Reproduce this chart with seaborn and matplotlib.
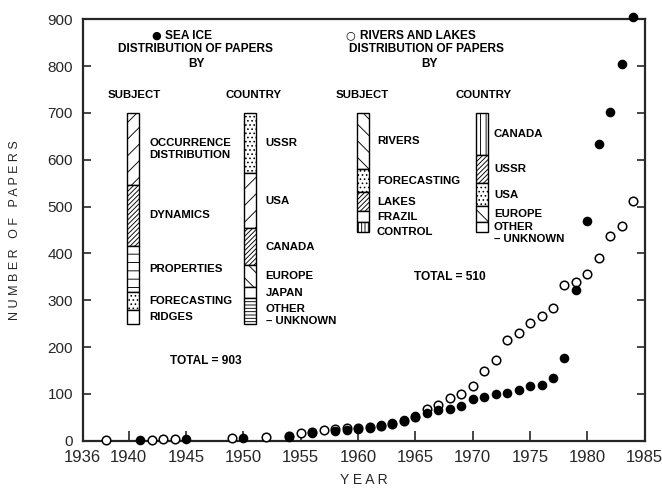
import numpy as np
import pandas as pd
import matplotlib
matplotlib.use("Agg")
import matplotlib.pyplot as plt
import seaborn as sns

# cumulative number of papers
ice_years = [1941, 1945, 1950, 1954, 1956, 1958, 1959, 1960, 1961, 1962, 1963,
             1964, 1965, 1966, 1967, 1968, 1969, 1970, 1971, 1972, 1973, 1974,
             1975, 1976, 1977, 1978, 1979, 1980, 1981, 1982, 1983, 1984]
ice_papers = [2, 3, 5, 9, 16, 20, 22, 25, 28, 33, 38,
              45, 53, 60, 65, 68, 75, 90, 93, 99, 103, 108,
              117, 119, 133, 176, 322, 469, 634, 701, 804, 904]

river_years = [1938, 1942, 1943, 1944, 1949, 1952, 1954, 1955, 1956, 1957, 1958,
               1959, 1960, 1961, 1962, 1963, 1964, 1965, 1966, 1967, 1968, 1969,
               1970, 1971, 1972, 1973, 1974, 1975, 1976, 1977, 1978, 1979, 1980,
               1981, 1982, 1983, 1984]
river_papers = [1, 2, 3, 4, 5, 7, 10, 16, 19, 22, 26,
                28, 28, 29, 32, 36, 43, 51, 67, 76, 92, 100,
                117, 148, 172, 216, 231, 252, 266, 283, 332, 340, 357,
                391, 437, 459, 511]

# distribution of papers (totals 903 and 510)
ice_subject_names = ["OCCURRENCE\nDISTRIBUTION", "DYNAMICS", "PROPERTIES", "FORECASTING", "RIDGES"]
ice_subject_counts = [308, 260, 197, 77, 61]
ice_country_names = ["USSR", "USA", "CANADA", "EUROPE", "JAPAN", "OTHER\n\u2013 UNKNOWN"]
ice_country_counts = [258, 235, 157, 95, 47, 111]
river_subject_names = ["RIVERS", "FORECASTING", "LAKES", "FRAZIL", "CONTROL"]
river_subject_counts = [241, 96, 84, 44, 45]
river_country_names = ["CANADA", "USSR", "USA", "EUROPE", "OTHER\n\u2013 UNKNOWN"]
river_country_counts = [178, 121, 99, 67, 45]

x_ticks = [1936, 1940, 1945, 1950, 1955, 1960, 1965, 1970, 1975, 1980, 1985]
y_ticks = [0, 100, 200, 300, 400, 500, 600, 700, 800, 900]

BAR_TOP = 700      # inset bars hang from this level
BAR_SCALE = 0.5    # axis units per paper in the inset bars
LABEL_GAP = 32     # min vertical gap between inset labels

sns.set_style("ticks")
plt.rcParams["font.family"] = ["Liberation Sans", "DejaVu Sans"]
plt.rcParams["hatch.linewidth"] = 0.65

fig = plt.figure(figsize=(6.62, 4.93), dpi=100)
ax = fig.add_axes([0.125, 0.106, 0.849, 0.855])

rivers = pd.DataFrame({"year": river_years, "papers": river_papers})
ice = pd.DataFrame({"year": ice_years, "papers": ice_papers})

sns.scatterplot(data=rivers, x="year", y="papers", ax=ax, s=38, marker="o",
                facecolor="white", edgecolor="black", linewidth=1.1,
                clip_on=False, zorder=3)
sns.scatterplot(data=ice, x="year", y="papers", ax=ax, s=48, marker="o",
                color="black", edgecolor="black", linewidth=0,
                clip_on=False, zorder=4)

# stacked inset bars: (bar centre, label x, names, counts, hatches)
panels = [
    (1940.4, 1941.8, ice_subject_names, ice_subject_counts,
     ["//", "///////", "--", "....", ""]),
    (1950.6, 1951.95, ice_country_names, ice_country_counts,
     ["....", "//", "///////", "\\\\", "", "-----"]),
    (1960.45, 1961.65, river_subject_names, river_subject_counts,
     ["\\\\", "....", "///////", "", "|||||"]),
    (1970.8, 1971.85, river_country_names, river_country_counts,
     ["|||", "///////", "....", "\\\\", ""]),
]

txt = dict(fontsize=8.2, fontweight="bold", color="black")
head = dict(fontsize=8.6, fontweight="bold", color="black")

for center, label_x, names, counts, hatches in panels:
    heights = np.array(counts) * BAR_SCALE
    bottoms = BAR_TOP - np.cumsum(heights)
    bars = ax.bar([center] * len(counts), heights, bottom=bottoms, width=1.0,
                  color="white", edgecolor="black", linewidth=1.0, zorder=2)
    for patch, h in zip(bars, hatches):
        patch.set_hatch(h)

    mids = bottoms + heights / 2
    prev = None
    for name, y in zip(names, mids):
        if prev is not None:
            y = min(y, prev - LABEL_GAP)
        prev = y
        if name.startswith("OTHER"):
            ax.annotate(name, (label_x, y), xytext=(0, 5), textcoords="offset points",
                        ha="left", va="top", linespacing=1.25, **txt)
        else:
            ax.text(label_x, y, name, ha="left", va="center", linespacing=1.3, **txt)

# headings, with series symbols
ax.text(1942.45, 866, "\u25cf", ha="center", va="center", fontsize=8,
        family="DejaVu Sans", color="black")
ax.text(1943.15, 864, "SEA ICE", ha="left", va="center", **head)
ax.text(1945.8, 836, "DISTRIBUTION OF PAPERS", ha="center", va="center", **head)
ax.text(1945.9, 805, "BY", ha="center", va="center", **head)
ax.text(1959.35, 866, "\u25cb", ha="center", va="center", fontsize=8,
        family="DejaVu Sans", color="black")
ax.text(1960.2, 864, "RIVERS AND LAKES", ha="left", va="center", **head)
ax.text(1966.0, 836, "DISTRIBUTION OF PAPERS", ha="center", va="center", **head)
ax.text(1966.2, 805, "BY", ha="center", va="center", **head)
for x, label in [(1940.5, "SUBJECT"), (1950.9, "COUNTRY"),
                 (1960.35, "SUBJECT"), (1970.95, "COUNTRY")]:
    ax.text(x, 738, label, ha="center", va="center", **txt)
ax.text(1946.7, 171, f"TOTAL = {sum(ice_subject_counts)}", ha="center", va="center", **head)
ax.text(1968.0, 349, f"TOTAL = {sum(river_subject_counts)}", ha="center", va="center", **head)

ax.set_xlim(1936, 1985)
ax.set_ylim(0, 900)
ax.set_xticks(x_ticks)
ax.set_yticks(y_ticks)
ax.tick_params(axis="x", labelsize=12, direction="in", length=7, width=1.2, pad=6.5)
ax.tick_params(axis="y", labelsize=11, direction="in", length=5.5, width=1.2, pad=7,
               right=True, labelright=False)
for side in ["left", "right", "top", "bottom"]:
    ax.spines[side].set_visible(True)
    ax.spines[side].set_linewidth(1.6)

ax.set_xlabel("Y E A R", fontsize=10)
ax.set_ylabel("N U M B E R   O F   P A P E R S", fontsize=9)
ax.xaxis.set_label_coords(0.5, -0.077)
ax.yaxis.set_label_coords(-0.11, 0.5)

fig.savefig("out.png", dpi=100)
